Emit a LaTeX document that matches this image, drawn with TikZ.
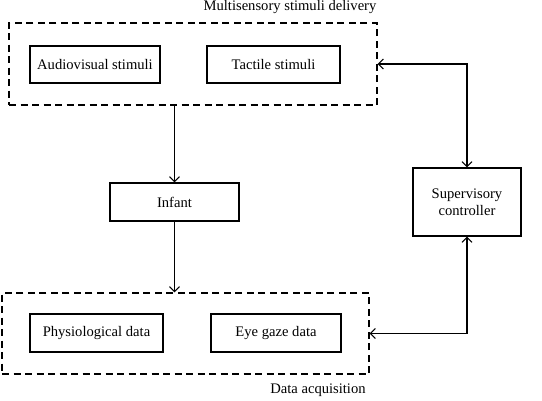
\documentclass[tikz,border=0pt]{standalone}
\usepackage{fontspec}
\setmainfont{Liberation Serif}
\usetikzlibrary{arrows.meta}
\begin{document}
\begin{tikzpicture}[x=1pt,y=-1pt,
  box/.style={draw,line width=1.1pt,rectangle,inner sep=0pt,font=\fontsize{14.6}{17}\selectfont,align=center},
  group/.style={draw,line width=1.3pt,dash pattern=on 7pt off 4.5pt,rectangle,inner sep=0pt},
  lbl/.style={font=\fontsize{14.6}{17}\selectfont,inner sep=0pt},
  conn/.style={line width=1.1pt,arrows={-Straight Barb[length=5pt,width=10pt]}},
  biconn/.style={line width=1.1pt,arrows={Straight Barb[length=5pt,width=10pt]-Straight Barb[length=5pt,width=10pt]}}]
\useasboundingbox (0,0) rectangle (542,400);
\node[group,minimum width=368pt,minimum height=82pt] (dash1) at (193,64) {};
\node[lbl] (title) at (290,7) {Multisensory stimuli delivery};
\node[box,minimum width=130pt,minimum height=37pt] (av) at (95,64.5) {Audiovisual stimuli};
\node[box,minimum width=133pt,minimum height=37pt] (tac) at (273.5,64.5) {Tactile stimuli};
\node[box,minimum width=129pt,minimum height=38pt] (inf) at (174.5,202) {Infant};
\node[box,minimum width=108pt,minimum height=68pt] (sup) at (467,202) {Supervisory\\controller};
\node[group,minimum width=367pt,minimum height=81pt] (dash2) at (185.5,333.5) {};
\node[box,minimum width=133pt,minimum height=38pt] (phys) at (96.5,333) {Physiological data};
\node[box,minimum width=130pt,minimum height=38pt] (eye) at (276,333) {Eye gaze data};
\node[lbl] (acq) at (318,390) {Data acquisition};
\draw[conn] (dash1.south -| inf.north) -- (inf.north);
\draw[conn] (inf.south) -- (inf.south |- dash2.north);
\draw[biconn] (sup.north) |- (dash1.east);
\draw[biconn] (sup.south) |- (dash2.east);
\end{tikzpicture}
\end{document}
